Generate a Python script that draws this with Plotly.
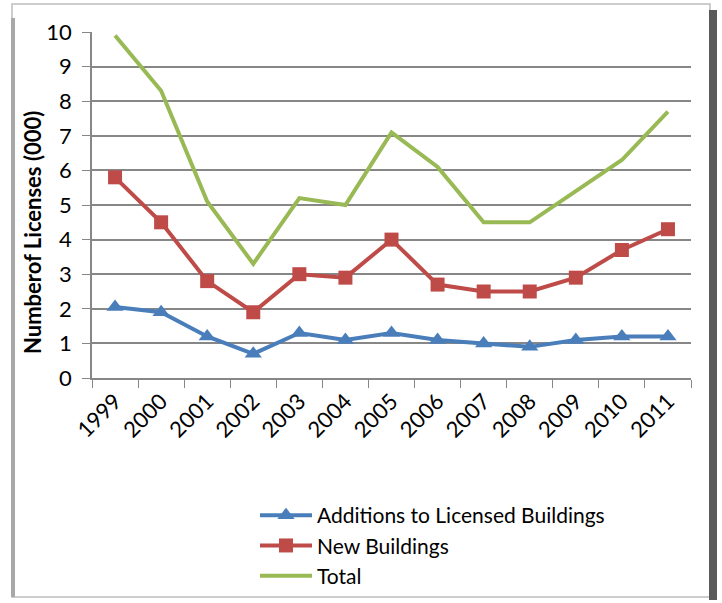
import plotly.graph_objects as go

years = ["1999", "2000", "2001", "2002", "2003", "2004", "2005", "2006", "2007", "2008", "2009", "2010", "2011"]
additions = [2.05, 1.9, 1.2, 0.7, 1.3, 1.1, 1.3, 1.1, 1.0, 0.9, 1.1, 1.2, 1.2]
new_buildings = [5.8, 4.5, 2.8, 1.9, 3.0, 2.9, 4.0, 2.7, 2.5, 2.5, 2.9, 3.7, 4.3]
total = [9.9, 8.3, 5.1, 3.3, 5.2, 5.0, 7.1, 6.1, 4.5, 4.5, 5.4, 6.3, 7.7]

W, H = 722, 603
L, R, T, B = 92, 31, 32, 225
pw, ph = W - L - R, H - T - B

def px(x):
    return (x - L) / pw

def py(y):
    return (H - B - y) / ph

FONT = "Lato, 'Open Sans', sans-serif"

fig = go.Figure()
fig.add_trace(go.Scatter(x=years, y=additions, name="Additions to Licensed Buildings",
                         mode="lines+markers", line=dict(color="#4A7EBB", width=4),
                         marker=dict(symbol="triangle-up", size=15, color="#4A7EBB")))
fig.add_trace(go.Scatter(x=years, y=new_buildings, name="New Buildings",
                         mode="lines+markers", line=dict(color="#BE4B48", width=4),
                         marker=dict(symbol="square", size=14, color="#BE4B48")))
fig.add_trace(go.Scatter(x=years, y=total, name="Total",
                         mode="lines", line=dict(color="#98B954", width=4)))

# outer chart frame with shadow
fig.add_shape(type="rect", xref="paper", yref="paper",
              x0=px(709), x1=px(717), y0=py(10), y1=py(600),
              fillcolor="#5A5A5A", line=dict(width=0), layer="above")
fig.add_shape(type="rect", xref="paper", yref="paper",
              x0=px(12), x1=px(710), y0=py(4), y1=py(597),
              fillcolor="rgba(0,0,0,0)", line=dict(color="#BDBDBD", width=1.5), layer="below")
fig.add_shape(type="line", xref="paper", yref="paper",
              x0=px(13), x1=px(13), y0=py(18), y1=py(597),
              line=dict(color="#A8A8A8", width=4), layer="below")

fig.add_annotation(text="<b>Numberof Licenses (000)</b>", textangle=-90,
                   xref="paper", yref="paper", x=px(32), y=py(233),
                   xanchor="center", yanchor="middle", showarrow=False,
                   font=dict(size=22, family=FONT, color="black"))

fig.update_layout(
    width=W, height=H,
    margin=dict(l=L, r=R, t=T, b=B, autoexpand=False),
    paper_bgcolor="white", plot_bgcolor="white",
    font=dict(family=FONT, color="black", size=21),
    showlegend=True,
    legend=dict(x=px(255), y=py(495), xanchor="left", yanchor="top",
                font=dict(size=21, family=FONT), tracegroupgap=0,
                itemwidth=52, bgcolor="rgba(0,0,0,0)"),
    xaxis=dict(type="category", tickson="boundaries", ticks="outside", ticklen=8,
               tickcolor="#878787", showline=True, linecolor="#878787", linewidth=1.5,
               showgrid=False, tickangle=-45, tickfont=dict(size=22, family=FONT),
               range=[-0.5, 12.5], automargin=False),
    yaxis=dict(range=[0, 10], dtick=1, showgrid=True, gridcolor="#878787", gridwidth=1.5,
               showline=True, linecolor="#878787", linewidth=1.5, ticks="outside",
               ticklen=8, tickcolor="#878787", zeroline=False, automargin=False,
               ticklabelstandoff=6,
               tickfont=dict(size=22, family=FONT)),
)

fig.write_html("out.html", config={"displayModeBar": False},
               post_script="document.body.style.margin='0';")
